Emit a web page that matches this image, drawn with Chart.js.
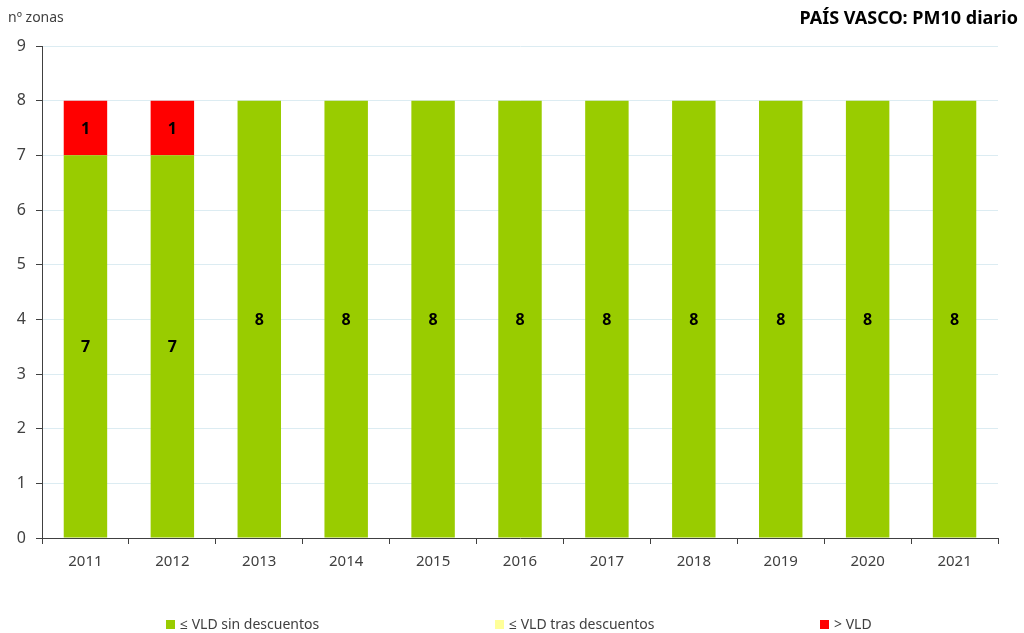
<!DOCTYPE html>
<html>
<head>
<meta charset="utf-8">
<script src="https://cdn.jsdelivr.net/npm/chart.js@4"></script>
<style>
  html, body { margin: 0; padding: 0; background: #fff; }
  #wrap { width: 1024px; height: 633px; position: relative; }
</style>
</head>
<body>
<div id="wrap"><canvas id="chart" width="1024" height="633"></canvas></div>
<script>
// Data
const years = ['2011','2012','2013','2014','2015','2016','2017','2018','2019','2020','2021'];
const sinDescuentos = [7, 7, 8, 8, 8, 8, 8, 8, 8, 8, 8];
const trasDescuentos = [0, 0, 0, 0, 0, 0, 0, 0, 0, 0, 0];
const superaVLD = [1, 1, 0, 0, 0, 0, 0, 0, 0, 0, 0];
const seriesNames = ['≤ VLD sin descuentos', '≤ VLD tras descuentos', '> VLD'];

const FONT = '"Noto Sans", "Open Sans", sans-serif';
const TEXT = '#404040';
const AXIS = '#404040';

// Segment value labels in the middle of each bar
const barLabels = {
    id: 'barLabels',
    afterDatasetsDraw(chart) {
        const ctx = chart.ctx;
        ctx.save();
        ctx.font = 'bold 16px ' + FONT;
        ctx.fillStyle = '#000';
        ctx.textAlign = 'center';
        ctx.textBaseline = 'middle';
        chart.data.datasets.forEach((ds, i) => {
            const meta = chart.getDatasetMeta(i);
            meta.data.forEach((bar, j) => {
                const v = ds.data[j];
                if (!v) return;
                ctx.fillText(String(v), bar.x, (bar.y + bar.base) / 2 + 1);
            });
        });
        ctx.restore();
    }
};

// Title, axis caption and bottom legend
const extras = {
    id: 'extras',
    afterDraw(chart) {
        const ctx = chart.ctx;
        ctx.save();
        ctx.fillStyle = '#000';
        ctx.font = 'bold 18px ' + FONT;
        ctx.textAlign = 'right';
        ctx.textBaseline = 'middle';
        ctx.fillText('PAÍS VASCO: PM10 diario', 1018, 19);

        ctx.fillStyle = TEXT;
        ctx.font = '14px ' + FONT;
        ctx.textAlign = 'left';
        ctx.fillText('nº zonas', 8, 18);

        const legendX = [166, 495, 820];
        chart.data.datasets.forEach((ds, i) => {
            const x = legendX[i];
            ctx.fillStyle = ds.backgroundColor;
            ctx.fillRect(x, 620, 9, 9);
            ctx.fillStyle = TEXT;
            ctx.font = '14px ' + FONT;
            ctx.fillText(ds.label, x + 14, 625);
        });
        ctx.restore();
    }
};

new Chart(document.getElementById('chart').getContext('2d'), {
    type: 'bar',
    data: {
        labels: years,
        datasets: [
            { label: seriesNames[0], data: sinDescuentos, backgroundColor: '#99cc00' },
            { label: seriesNames[1], data: trasDescuentos, backgroundColor: '#ffff99' },
            { label: seriesNames[2], data: superaVLD, backgroundColor: '#ff0000' }
        ]
    },
    options: {
        responsive: false,
        animation: false,
        layout: { padding: { top: 46, left: 0, right: 26, bottom: 55 } },
        datasets: { bar: { barPercentage: 0.5, categoryPercentage: 1 } },
        plugins: { legend: { display: false }, tooltip: { enabled: false } },
        scales: {
            x: {
                stacked: true,
                afterFit(s) { s.height = 40; },
                border: { color: AXIS, width: 1 },
                grid: { offset: true, drawOnChartArea: false, tickColor: AXIS, tickLength: 6 },
                ticks: { color: TEXT, font: { family: FONT, size: 15 }, padding: 9 }
            },
            y: {
                stacked: true,
                min: 0,
                max: 9,
                afterFit(s) { s.width = 42; },
                border: { color: AXIS, width: 1 },
                grid: { color: '#dcecf2', tickColor: AXIS, tickLength: 6 },
                ticks: { stepSize: 1, color: TEXT, font: { family: FONT, size: 16 }, padding: 10 }
            }
        }
    },
    plugins: [barLabels, extras]
});
</script>
</body>
</html>
